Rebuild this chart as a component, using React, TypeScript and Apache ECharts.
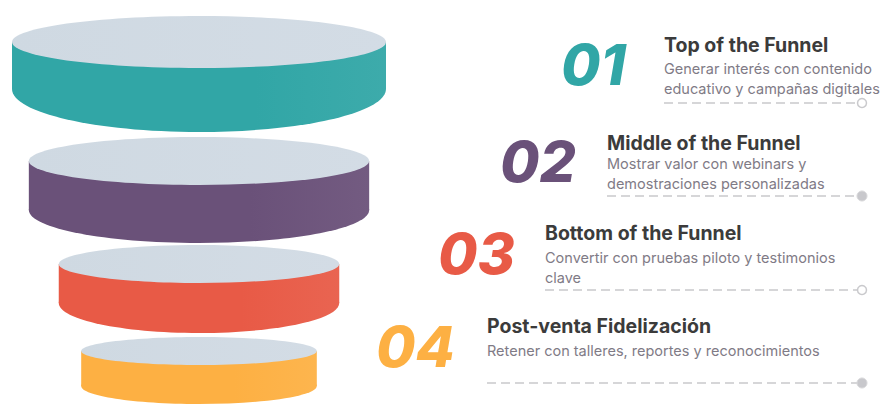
import React, { useEffect, useRef } from "react";
import * as echarts from "echarts";

// ---- data ----
const stageNumbers = ["01", "02", "03", "04"];
const stageTitles = [
  "Top of the Funnel",
  "Middle of the Funnel",
  "Bottom of the Funnel",
  "Post-venta Fidelización",
];
const stageLines = [
  ["Generar interés con contenido", "educativo y campañas digitales"],
  ["Mostrar valor con webinars y", "demostraciones personalizadas"],
  ["Convertir con pruebas piloto y testimonios", "clave"],
  ["Retener con talleres, reportes y reconocimientos"],
];
const stageWidths = [100, 91, 75, 63]; // relative disk width
const stageColors = ["#31a6a6", "#6a5179", "#e85a46", "#fdb043"];
const markerFilled = [false, true, false, true];

// ---- layout ----
const W = 882;
const H = 406;
const diskCenterY = [42, 161, 264, 351];
const diskTopRy = [26, 24, 19, 14];
const diskSideH = [47, 49, 39, 35];
const diskBottomRy = [43, 33, 30, 18];
const numLeft = [561, 500, 438, 376];
const numMid = [64, 161, 253, 346];
const titleX = [664, 607, 545, 487];
const titleY = [45, 143, 233, 326];
const subY = [68, 163, 257, 350];
const dashY = [103, 196, 290, 383];
const lineEndX = 857;
const markerX = 862;

function lighten(hex: string, amt: number) {
  const n = parseInt(hex.slice(1), 16);
  let r = (n >> 16) & 255, g = (n >> 8) & 255, b = n & 255;
  r = Math.round(r + (255 - r) * amt);
  g = Math.round(g + (255 - g) * amt);
  b = Math.round(b + (255 - b) * amt);
  return `rgb(${r},${g},${b})`;
}

export default function App() {
  const ref = useRef<HTMLDivElement>(null);
  useEffect(() => {
    document.body.style.margin = "0";
    const chart = echarts.init(ref.current!, undefined, { renderer: "svg" });

    const graphics: any[] = [];
    stageNumbers.forEach((num, i) => {
      graphics.push({
        type: "text",
        x: numLeft[i],
        y: numMid[i],
        style: {
          text: num,
          fill: stageColors[i],
          font: "italic 800 57px Inter, 'Open Sans', sans-serif",
          verticalAlign: "middle",
          align: "left",
        },
      });
      graphics.push({
        type: "text",
        x: titleX[i],
        y: titleY[i],
        style: {
          text: stageTitles[i],
          fill: "#3b3b3b",
          font: "700 19.5px Inter, 'Open Sans', sans-serif",
          verticalAlign: "middle",
        },
      });
      stageLines[i].forEach((ln, k) => {
        graphics.push({
          type: "text",
          x: titleX[i],
          y: subY[i] + k * 20,
          style: {
            text: ln,
            fill: "#7f7b86",
            font: "400 14.5px Inter, 'Open Sans', sans-serif",
            verticalAlign: "middle",
          },
        });
      });
      graphics.push({
        type: "line",
        shape: { x1: titleX[i], y1: dashY[i], x2: lineEndX, y2: dashY[i] },
        style: { stroke: "#d6d6d8", lineWidth: 2, lineDash: [9, 5] },
      });
      graphics.push({
        type: "circle",
        shape: { cx: markerX, cy: dashY[i], r: markerFilled[i] ? 5 : 4.5 },
        style: markerFilled[i]
          ? { fill: "#c8c8cc", stroke: "#d8d8da", lineWidth: 1 }
          : { fill: "#ffffff", stroke: "#c9c9cc", lineWidth: 1.5 },
      });
    });

    chart.setOption({
      animation: false,
      backgroundColor: "#ffffff",
      grid: { left: 12, top: 0, width: 374, height: H },
      xAxis: { type: "value", min: -100, max: 100, show: false },
      yAxis: { type: "value", min: 0, max: 1, show: false },
      series: [
        {
          type: "custom",
          data: stageWidths.map((w, i) => [i, w]),
          renderItem: (params: any, api: any) => {
            const i = api.value(0);
            const w = api.value(1);
            const left = api.coord([-w, 0])[0];
            const right = api.coord([w, 0])[0];
            const rx = (right - left) / 2;
            const cx = (left + right) / 2;
            const cy = diskCenterY[i];
            const col = stageColors[i];
            const sideFill = new echarts.graphic.LinearGradient(0, 0, 1, 0, [
              { offset: 0, color: col },
              { offset: 0.65, color: col },
              { offset: 1, color: lighten(col, 0.06) },
            ]);
            return {
              type: "group",
              children: [
                {
                  type: "rect",
                  shape: { x: left, y: cy, width: right - left, height: diskSideH[i] },
                  style: { fill: sideFill },
                },
                {
                  type: "ellipse",
                  shape: { cx, cy: cy + diskSideH[i], rx, ry: diskBottomRy[i] },
                  style: { fill: sideFill },
                },
                {
                  type: "ellipse",
                  shape: { cx, cy, rx, ry: diskTopRy[i] },
                  style: {
                    fill: new echarts.graphic.LinearGradient(0, 0, 1, 0, [
                      { offset: 0, color: "#cfd9e2" },
                      { offset: 1, color: "#d3dce5" },
                    ]),
                  },
                },
              ],
            };
          },
        },
      ],
      graphic: graphics,
    });
    return () => chart.dispose();
  }, []);
  return <div ref={ref} style={{ width: W, height: H }} />;
}
